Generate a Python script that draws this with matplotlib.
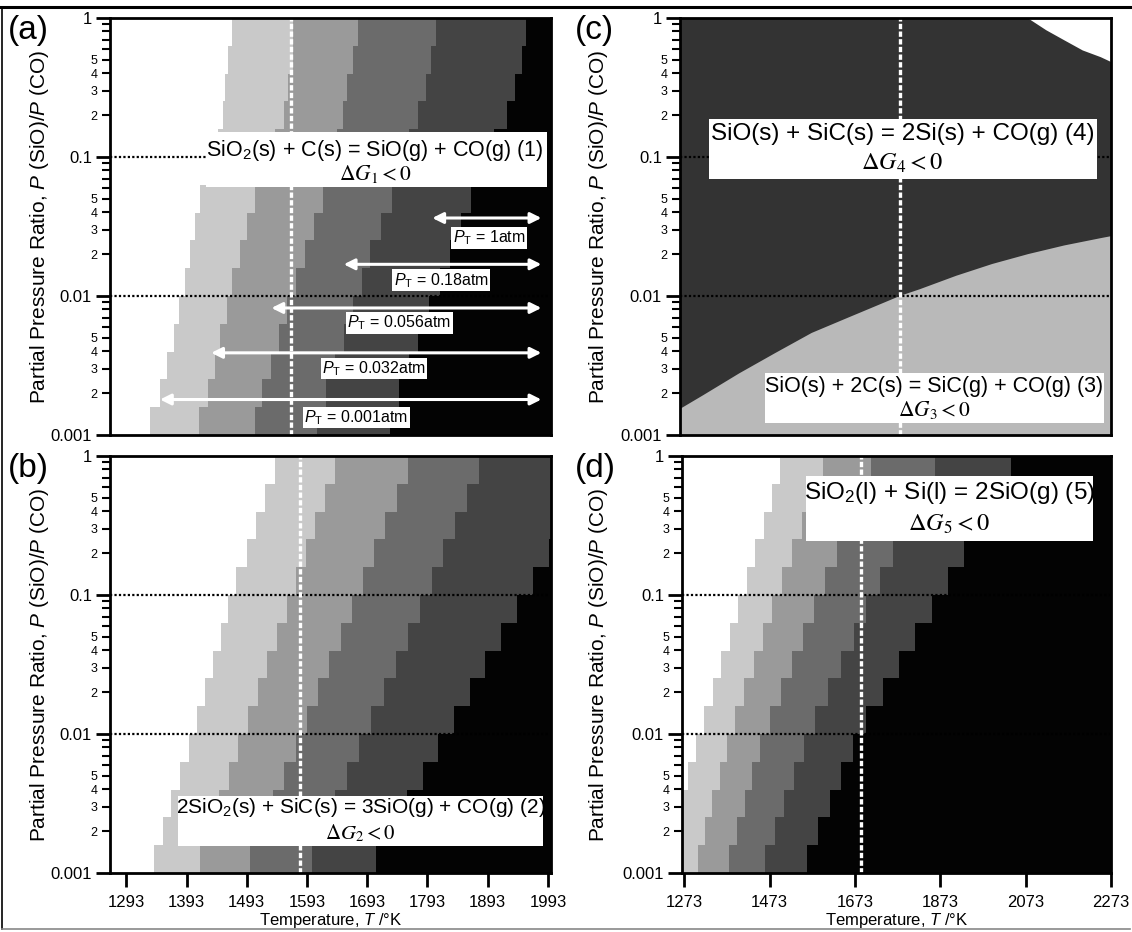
import numpy as np
import matplotlib.pyplot as plt
from matplotlib.ticker import LogLocator, FuncFormatter, NullLocator
from matplotlib.patches import Rectangle
from matplotlib.lines import Line2D

plt.rcParams['font.family'] = ['Liberation Sans', 'DejaVu Sans']
plt.rcParams['mathtext.fontset'] = 'custom'
plt.rcParams['mathtext.rm'] = 'Liberation Sans'
plt.rcParams['mathtext.it'] = 'Liberation Sans:italic'
plt.rcParams['mathtext.bf'] = 'Liberation Sans:bold'

# rows of the stepped maps: P(SiO)/P(CO) from 0.001 to 1, 0.2 decade each
ratio_exp = [-3.0, -2.8, -2.6, -2.4, -2.2, -2.0, -1.8, -1.6, -1.4, -1.2,
             -1.0, -0.8, -0.6, -0.4, -0.2, 0.0]
ratio_edges = 10.0 ** np.array(ratio_exp)

grays = ['#c9c9c9', '#9a9a9a', '#6b6b6b', '#444444', '#030303']

# boundary temperature (K) of each shaded band, one value per row (bottom -> top)
a_bounds = [
    [1333, 1349, 1360, 1372, 1381, 1390, 1399, 1407, 1416, 1431, 1446, 1453, 1457, 1462, 1468],
    [1414, 1428, 1440, 1449, 1460, 1469, 1481, 1493, 1507, 1522, 1540, 1554, 1562, 1569, 1570],
    [1507, 1519, 1534, 1546, 1560, 1575, 1590, 1604, 1619, 1631, 1643, 1653, 1660, 1670, 1678],
    [1610, 1625, 1640, 1654, 1669, 1684, 1698, 1716, 1734, 1748, 1763, 1778, 1790, 1799, 1807],
    [1731, 1745, 1763, 1778, 1795, 1813, 1831, 1848, 1866, 1884, 1904, 1925, 1939, 1950, 1956],
]
b_bounds = [
    [1339, 1354, 1368, 1382, 1397, 1410, 1424, 1437, 1450, 1462, 1475, 1493, 1508, 1524, 1540],
    [1415, 1431, 1447, 1463, 1479, 1495, 1511, 1527, 1543, 1559, 1575, 1591, 1607, 1623, 1639],
    [1499, 1518, 1537, 1555, 1574, 1593, 1611, 1630, 1649, 1667, 1686, 1705, 1723, 1742, 1761],
    [1601, 1620, 1640, 1660, 1680, 1700, 1720, 1740, 1760, 1780, 1800, 1819, 1839, 1859, 1879],
    [1707, 1733, 1759, 1785, 1811, 1837, 1863, 1889, 1915, 1941, 1968, 1994, 2020, 2046, 2072],
]
d_bounds = [
    [1223, 1242, 1262, 1281, 1300, 1320, 1340, 1360, 1380, 1400, 1420, 1440, 1459, 1478, 1497],
    [1305, 1322, 1339, 1356, 1373, 1392, 1414, 1436, 1457, 1479, 1502, 1526, 1550, 1574, 1598],
    [1378, 1396, 1415, 1433, 1451, 1473, 1499, 1525, 1551, 1577, 1603, 1630, 1656, 1683, 1710],
    [1463, 1486, 1508, 1531, 1553, 1580, 1610, 1640, 1670, 1700, 1731, 1763, 1796, 1828, 1861],
    [1560, 1587, 1614, 1641, 1668, 1700, 1739, 1777, 1815, 1854, 1891, 1928, 1965, 2001, 2038],
]

# panel (c): SiC / Si boundary and the upper-right corner
c_T = [1268, 1321, 1405, 1489, 1574, 1658, 1742, 1780, 1826, 1911, 1995, 2079, 2163, 2248, 2273]
c_ratio = [0.00156, 0.00195, 0.0028, 0.00392, 0.00547, 0.00703, 0.00902, 0.0101,
           0.01128, 0.0141, 0.01714, 0.0202, 0.0233, 0.0263, 0.0272]
corner_T = [2079, 2121, 2163, 2206, 2248, 2273]
corner_ratio = [1.0, 0.823, 0.697, 0.589, 0.527, 0.485]

# temperature marked by the white dashed line
mark_T = {'a': 1567, 'b': 1582, 'c': 1780, 'd': 1688}

# total pressure arrows in panel (a)
pt_labels = ['1', '0.18', '0.056', '0.032', '0.001']
arrow_start = [1801, 1654, 1534, 1434, 1349]
arrow_end = 1982
arrow_ratio = [0.0364, 0.0169, 0.0082, 0.0039, 0.0018]
label_T = [1895, 1816, 1746, 1704, 1675]
label_ratio = [0.0261, 0.0130, 0.0064, 0.0030, 0.00134]

xlim_ab = (1266, 1998)
xlim_cd = (1268, 2273)
xt_b = [1293, 1393, 1493, 1593, 1693, 1793, 1893, 1993]
xt_d = [1273, 1473, 1673, 1873, 2073, 2273]

W, H = 1132, 932
fig = plt.figure(figsize=(W / 100, H / 100), dpi=100)


def px_axes(l, t, r, b):
    return fig.add_axes([l / W, 1 - b / H, (r - l) / W, (b - t) / H])


def minor_fmt(v, pos):
    m = int(round(v / 10 ** np.floor(np.log10(v) + 1e-9)))
    return str(m) if m in (2, 3, 4, 5) else ''


def style(ax, xlim, xticks=None):
    ax.set_yscale('log')
    ax.set_ylim(0.001, 1)
    ax.set_xlim(*xlim)
    ax.yaxis.set_major_locator(LogLocator(base=10))
    ax.yaxis.set_minor_locator(LogLocator(base=10, subs=np.arange(2, 10)))
    ax.yaxis.set_major_formatter(FuncFormatter(lambda v, p: '%g' % v))
    ax.yaxis.set_minor_formatter(FuncFormatter(minor_fmt))
    ax.tick_params(axis='y', which='major', length=10, width=2, labelsize=12, pad=3)
    ax.tick_params(axis='y', which='minor', length=6, width=1.5, labelsize=9, pad=3)
    if xticks is None:
        ax.set_xticks([])
    else:
        ax.set_xticks(xticks)
        ax.xaxis.set_minor_locator(NullLocator())
        ax.tick_params(axis='x', length=10, width=2, labelsize=12, pad=6)
    for s in ax.spines.values():
        s.set_linewidth(2)
        s.set_zorder(6)


def stepped(ax, bounds, xmax):
    for bound, col in zip(bounds, grays):
        ax.stairs(np.full(len(bound), xmax + 200.0), ratio_edges, baseline=bound,
                  orientation='horizontal', fill=True, color=col, lw=0, zorder=1)


def guides(ax, T):
    ax.axhline(0.1, color='black', ls=(0, (1, 1)), lw=1.6, zorder=2)
    ax.axhline(0.01, color='black', ls=(0, (1, 1)), lw=1.6, zorder=2)
    ax.axvline(T, color='white', ls=(0, (1.6, 0.7)), lw=2.4, zorder=2.5)


def box(ax, x0, y0, x1, y1, cx, y_a, y_b, eq, dg, fs):
    ax.add_patch(Rectangle((x0, y0), x1 - x0, y1 - y0, transform=ax.transAxes,
                           facecolor='white', edgecolor='none', zorder=4))
    ax.text(cx, y_a, eq, transform=ax.transAxes, ha='center', va='center',
            fontsize=fs, zorder=5)
    ax.text(cx, y_b, dg, transform=ax.transAxes, ha='center', va='center',
            fontsize=fs, math_fontfamily='stix', zorder=5)


ax_a = px_axes(110, 18, 551, 435)
ax_b = px_axes(110, 456, 551, 873)
ax_c = px_axes(680, 18, 1111, 435)
ax_d = px_axes(682, 456, 1111, 873)

# (a)
stepped(ax_a, a_bounds, xlim_ab[1])
guides(ax_a, mark_T['a'])
style(ax_a, xlim_ab)
box(ax_a, 0.218, 0.594, 0.99, 0.727, 0.601, 0.683, 0.627,
    r'SiO$_2$(s) + C(s) = SiO(g) + CO(g) (1)', r'$\Delta G_1 < 0$', 15.5)
for lab, x0, yv, lx, ly in zip(pt_labels, arrow_start, arrow_ratio, label_T, label_ratio):
    ax_a.annotate('', xy=(arrow_end, yv), xytext=(x0, yv),
                  arrowprops=dict(arrowstyle='<|-|>', color='white', lw=2.2,
                                  mutation_scale=16, shrinkA=0, shrinkB=0), zorder=3)
    ax_a.text(lx, ly, r'$P_{\mathrm{T}}$ = ' + lab + 'atm', ha='center', va='center',
              fontsize=11.5, zorder=5,
              bbox=dict(facecolor='white', edgecolor='none', pad=1.0))

# (b)
stepped(ax_b, b_bounds, xlim_ab[1])
guides(ax_b, mark_T['b'])
style(ax_b, xlim_ab, xt_b)
box(ax_b, 0.155, 0.064, 0.981, 0.185, 0.568, 0.157, 0.096,
    r'2SiO$_2$(s) + SiC(s) = 3SiO(g) + CO(g) (2)', r'$\Delta G_2 < 0$', 15)

# (c)
ax_c.fill_between(xlim_cd, 0.0005, 2, color='#333333', lw=0, zorder=1)
ax_c.fill_between(c_T, 0.0005, c_ratio, color='#b9b9b9', lw=0, zorder=1.1)
ax_c.fill_between(corner_T, corner_ratio, 2, color='white', lw=0, zorder=1.1)
guides(ax_c, mark_T['c'])
style(ax_c, xlim_cd)
box(ax_c, 0.067, 0.613, 0.967, 0.758, 0.516, 0.722, 0.651,
    'SiO(s) + SiC(s) = 2Si(s) + CO(g) (4)', r'$\Delta G_4 < 0$', 17.5)
box(ax_c, 0.197, 0.028, 0.983, 0.149, 0.590, 0.117, 0.060,
    'SiO(s) + 2C(s) = SiC(g) + CO(g) (3)', r'$\Delta G_3 < 0$', 15.5)

# (d)
stepped(ax_d, d_bounds, xlim_cd[1])
guides(ax_d, mark_T['d'])
style(ax_d, xlim_cd, xt_d)
box(ax_d, 0.290, 0.796, 0.957, 0.952, 0.623, 0.912, 0.836,
    r'SiO$_2$(l) + Si(l) = 2SiO(g) (5)', r'$\Delta G_5 < 0$', 17.5)

ylab = r'Partial Pressure Ratio, $P$ (SiO)/$P$ (CO)'
for x_px, ax in [(40, ax_a), (40, ax_b), (599, ax_c), (599, ax_d)]:
    pos = ax.get_position()
    fig.text(x_px / W, pos.y0 + pos.height / 2, ylab, rotation=90,
             ha='center', va='center', fontsize=15)
for ax in (ax_b, ax_d):
    pos = ax.get_position()
    fig.text(pos.x0 + pos.width / 2, 1 - 920 / H, r'Temperature, $T$ /°K',
             ha='center', va='center', fontsize=12)

for lab, x_px, y_px in [('(a)', 8, 15), ('(b)', 8, 453), ('(c)', 575, 15), ('(d)', 575, 453)]:
    fig.text(x_px / W, 1 - y_px / H, lab, ha='left', va='top', fontsize=24)

# outer frame
fig.add_artist(Line2D([0, 1], [1 - 7 / H] * 2, color='black', lw=2.2, transform=fig.transFigure))
fig.add_artist(Line2D([2 / W] * 2, [1 - 7 / H, 1 - 929 / H], color='black', lw=1.2, transform=fig.transFigure))
fig.add_artist(Line2D([2 / W, 1130 / W], [1 - 929 / H] * 2, color='#888888', lw=1.2, transform=fig.transFigure))

fig.savefig('out.png', dpi=100)
